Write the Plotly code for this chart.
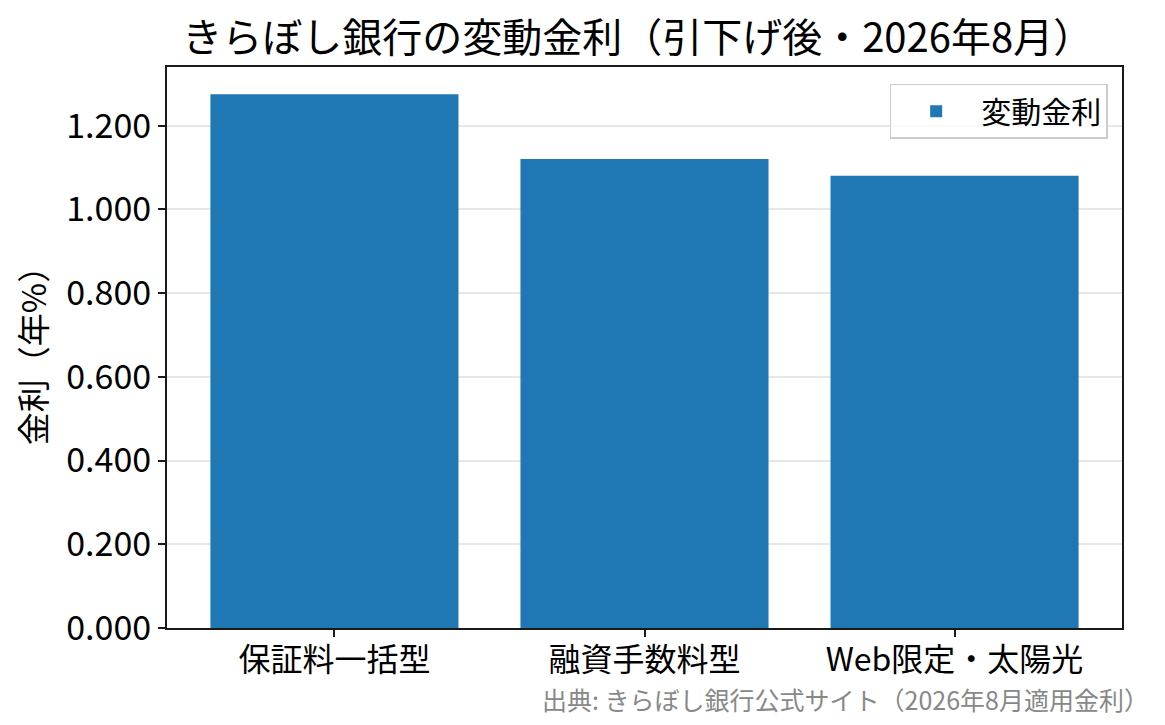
import plotly.graph_objects as go

# 金利データ（年%）
plans = ["保証料一括型", "融資手数料型", "Web限定・太陽光"]
rates = [1.275, 1.120, 1.080]
y_ticks = [0.0, 0.2, 0.4, 0.6, 0.8, 1.0, 1.2]

FONT = "Noto Sans CJK JP"

fig = go.Figure()
fig.add_trace(
    go.Bar(
        x=list(range(len(plans))),
        y=rates,
        width=0.8,
        name="変動金利",
        marker=dict(color="#1f77b4", line=dict(width=0)),
    )
)

# ページ本体の余白(8px)ぶん小さくしておく
fig.update_layout(
    width=1149,
    height=709,
    paper_bgcolor="white",
    plot_bgcolor="white",
    font=dict(family=FONT, color="black", size=32),
    margin=dict(l=159, r=35, t=59, b=89),
    title=dict(
        text="きらぼし銀行の変動金利（引下げ後・2026年8月）",
        x=0.548,
        xanchor="center",
        y=0.958,
        yanchor="middle",
        font=dict(size=40),
    ),
    showlegend=True,
    legend=dict(
        x=0.985,
        y=0.97,
        xanchor="right",
        yanchor="top",
        bgcolor="rgba(255,255,255,0.8)",
        bordercolor="#cccccc",
        borderwidth=1.5,
        itemwidth=80,
        font=dict(size=30),
    ),
)

fig.update_xaxes(
    range=[-0.54, 2.54],
    tickvals=list(range(len(plans))),
    ticktext=plans,
    showline=True,
    linecolor="#1a1a1a",
    linewidth=2,
    mirror=True,
    ticks="outside",
    ticklen=7,
    tickwidth=1.5,
    tickcolor="#1a1a1a",
    showgrid=False,
    ticklabelstandoff=-4,
    tickfont=dict(size=32),
)

fig.update_yaxes(
    range=[0, 1.34],
    tickvals=y_ticks,
    tickformat=".3f",
    showline=True,
    linecolor="#1a1a1a",
    linewidth=2,
    mirror=True,
    ticks="outside",
    ticklen=7,
    tickwidth=1.5,
    tickcolor="#1a1a1a",
    showgrid=True,
    gridcolor="rgba(176,176,176,0.3)",
    gridwidth=1.5,
    zeroline=False,
    layer="above traces",
    title=dict(text="金利（年%）", font=dict(size=33), standoff=10),
    tickfont=dict(size=34),
)

fig.add_annotation(
    text="出典: きらぼし銀行公式サイト（2026年8月適用金利）",
    xref="paper",
    yref="paper",
    x=1.03,
    y=-0.126,
    xanchor="right",
    yanchor="middle",
    showarrow=False,
    font=dict(size=25, color="#888888"),
)

fig.write_html("out.html")
